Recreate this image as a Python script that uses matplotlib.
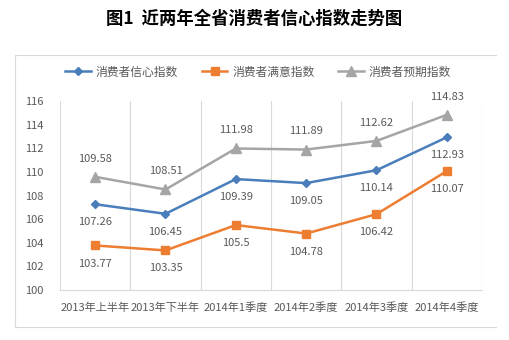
import matplotlib
matplotlib.use("Agg")
import matplotlib.pyplot as plt
from matplotlib.lines import Line2D

plt.rcParams['font.family'] = ['Noto Sans CJK SC', 'DejaVu Sans']

# ---------- data ----------
categories = ["2013年上半年", "2013年下半年", "2014年1季度", "2014年2季度", "2014年3季度", "2014年4季度"]
confidence = [107.26, 106.45, 109.39, 109.05, 110.14, 112.93]
satisfaction = [103.77, 103.35, 105.5, 104.78, 106.42, 110.07]
expectation = [109.58, 108.51, 111.98, 111.89, 112.62, 114.83]
yticks = [100, 102, 104, 106, 108, 110, 112, 114, 116]

W, H = 510, 340
fig = plt.figure(figsize=(W / 100, H / 100), dpi=100)

# chart frame (right edge is cut off in the original)
frame = dict(transform=fig.transFigure, color="#d9d9d9", linewidth=0.8)
fig.lines.append(Line2D([15 / W, 496 / W], [1 - 55 / H, 1 - 55 / H], **frame))
fig.lines.append(Line2D([15 / W, 496 / W], [1 - 327 / H, 1 - 327 / H], **frame))
fig.lines.append(Line2D([15 / W, 15 / W], [1 - 55 / H, 1 - 327 / H], **frame))

fig.text(254 / W, 1 - 19 / H, "图1  近两年全省消费者信心指数走势图",
         ha="center", va="center", fontsize=12.5, fontweight="bold", color="black")

ax = fig.add_axes([60 / W, 1 - 290 / H, (482 - 60) / W, (290 - 101) / H])
x = list(range(len(categories)))

l1, = ax.plot(x, confidence, color="#4a7ebb", linewidth=1.8, marker="D", markersize=4,
              label="消费者信心指数")
l2, = ax.plot(x, satisfaction, color="#ed7d31", linewidth=1.8, marker="s", markersize=6,
              label="消费者满意指数")
l3, = ax.plot(x, expectation, color="#a5a5a5", linewidth=1.8, marker="^", markersize=6.5,
              label="消费者预期指数")

lab_col = "#595959"
for i in x:
    ax.annotate(f"{expectation[i]:g}", (i, expectation[i]), xytext=(0, 13),
                textcoords="offset points", ha="center", va="center", fontsize=8,
                color=lab_col, fontweight="light")
    ax.annotate(f"{confidence[i]:g}", (i, confidence[i]), xytext=(0, -13),
                textcoords="offset points", ha="center", va="center", fontsize=8,
                color=lab_col, fontweight="light")
    ax.annotate(f"{satisfaction[i]:g}", (i, satisfaction[i]), xytext=(0, -13),
                textcoords="offset points", ha="center", va="center", fontsize=8,
                color=lab_col, fontweight="light")

ax.set_xlim(-0.5, len(categories) - 0.5)
ax.set_ylim(100, 116)
ax.set_yticks(yticks)
ax.set_xticks(x)
ax.set_xticklabels(categories)
ax.set_xticks([i - 0.5 for i in range(len(categories) + 1)], minor=True)
ax.grid(True, which="minor", axis="x", color="#d9d9d9", linewidth=0.8)
ax.tick_params(axis="both", which="both", length=0)
ax.tick_params(axis="y", pad=12, labelsize=8, labelcolor=lab_col)
ax.tick_params(axis="x", pad=9, labelsize=8, labelcolor=lab_col)

for s in ["top", "right", "left"]:
    ax.spines[s].set_visible(False)
ax.spines["bottom"].set_color("#d9d9d9")
ax.spines["bottom"].set_linewidth(0.8)

fig.legend(handles=[l1, l2, l3], loc="center", bbox_to_anchor=(258 / W, 1 - 72 / H),
           ncol=3, frameon=False, fontsize=8.5, labelcolor=lab_col,
           handlelength=2.2, columnspacing=2.0, handletextpad=0.4)

fig.savefig("out.png", dpi=100)
